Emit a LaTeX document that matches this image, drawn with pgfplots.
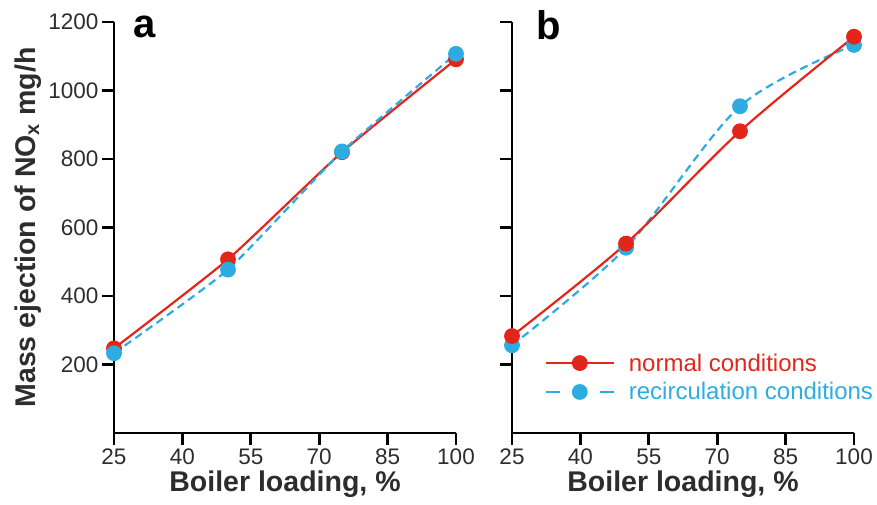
\documentclass[border=0pt]{standalone}
\usepackage{fontspec}
\setmainfont{Liberation Sans}
\usepackage{pgfplots}
\pgfplotsset{compat=1.18}
\definecolor{cred}{RGB}{228,38,26}
\definecolor{cblue}{RGB}{44,172,224}
\definecolor{tickgray}{RGB}{45,45,45}
\newcommand\tl[1]{{\fontsize{22.5}{24}\selectfont #1}}

\pgfplotsset{
  panel/.style={
    scale only axis, width=342pt, height=411pt,
    xmin=25, xmax=100, ymin=0, ymax=1200,
    axis x line*=bottom, axis y line*=left,
    axis line style={line width=2.8pt, -},
    xtick={25,40,55,70,85,100}, ytick={200,400,600,800,1000,1200},
    xticklabels={\tl{25},\tl{40},\tl{55},\tl{70},\tl{85},\tl{100}},
    yticklabels={\tl{200},\tl{400},\tl{600},\tl{800},\tl{1000},\tl{1200}},
    tick style={line width=2.8pt, black},
    major tick length=12pt,
    tick align=outside,
    tick label style={text=tickgray},
    xlabel style={font=\fontsize{28.5}{30}\selectfont\bfseries, text=tickgray},
    ylabel style={font=\fontsize{28.5}{30}\selectfont\bfseries, text=tickgray},
    xlabel={Boiler loading, \%},
    clip=false,
  },
  normal/.style={cred, line width=2.2pt, mark=*, mark size=6.8pt,
    mark options={solid, fill=cred, draw=none}},
  recirc/.style={cblue, line width=2.2pt, dash pattern=on 8pt off 5pt, mark=*,
    mark size=6.8pt, mark options={solid, fill=cblue, draw=none}},
}

\begin{document}
\begin{tikzpicture}
% panel a
\begin{axis}[panel, at={(0pt,0pt)},
  ylabel={Mass ejection of NO\textsubscript{x} mg/h}]
\addplot[normal, smooth, tension=0.3] coordinates {(25,247) (50,507) (75,820) (100,1091)};
\addplot[recirc, smooth, tension=0.3] coordinates {(25,233) (50,477) (75,822) (100,1107)};
\node[font=\fontsize{40}{40}\selectfont\bfseries, anchor=base] at (rel axis cs:0.09,0.963) {a};
\end{axis}

% panel b
\begin{axis}[panel, at={(398pt,0pt)}, yticklabels={},
  legend style={draw=none, fill=none, at={(rel axis cs:0.095,0.135)}, anchor=west,
    font=\fontsize{24}{26}\selectfont, row sep=6pt, inner sep=0pt,
    cells={anchor=west}, /tikz/every odd column/.append style={column sep=12pt}},
  legend image code/.code={\draw[mark repeat=2, mark phase=2, #1]
    plot coordinates {(0pt,0pt) (34pt,0pt) (68pt,0pt)};}]
\addlegendimage{normal}
\addlegendentry{\textcolor{cred}{normal conditions}}
\addlegendimage{recirc, dash pattern=on 14pt off 40pt on 14pt off 0pt}
\addlegendentry{\textcolor{cblue}{recirculation conditions}}
\addplot[recirc, smooth, forget plot] coordinates {(25,256) (50,541) (75,954) (100,1133)};
\addplot[normal, smooth, forget plot] coordinates {(25,283) (50,553) (75,881) (100,1157)};
\node[font=\fontsize{40}{40}\selectfont\bfseries, anchor=base] at (rel axis cs:0.108,0.958) {b};
\end{axis}
\pgfresetboundingbox
\path[use as bounding box] (-114pt,-72pt) rectangle (763pt,433pt);
\end{tikzpicture}
\end{document}
